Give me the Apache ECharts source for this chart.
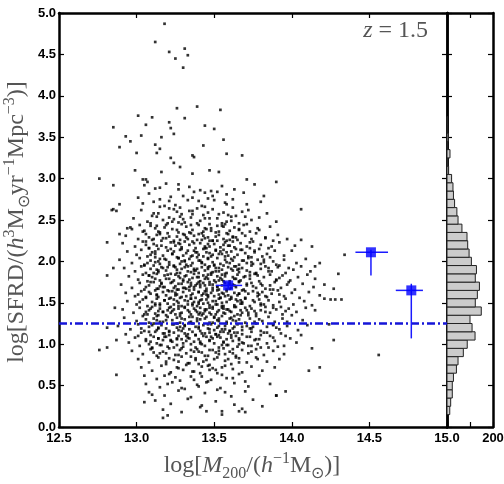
<!DOCTYPE html>
<html><head><meta charset="utf-8">
<script src="https://cdn.jsdelivr.net/npm/echarts@6/dist/echarts.min.js"></script>
<style>html,body{margin:0;padding:0;background:#fff}#c{width:504px;height:484px}</style>
</head><body><div id="c"></div>
<script>
// ---- data (log M200, log SFRD) ----
const pointsSparse = [[13.18,4.87],[13.12,4.65],[13.21,4.53],[13.25,4.45],[13.31,4.57],[13.33,4.49],[13.30,4.34],[13.26,3.85],[13.39,3.87],[13.54,3.83],[13.01,3.76],[13.10,3.74],[13.06,3.65],[12.85,3.62],[13.21,3.68],[13.31,3.73],[13.22,3.61],[13.44,3.64],[13.50,3.60],[13.03,3.52],[12.93,3.51],[13.16,3.50],[13.24,3.54],[13.56,3.47],[12.96,3.45],[12.89,3.38],[13.12,3.41],[13.15,3.36],[13.43,3.40],[13.00,3.31],[13.13,3.31],[13.22,3.25],[13.36,3.28],[13.37,3.26],[13.58,3.30],[13.68,3.28],[13.24,3.19],[13.28,3.14],[12.76,3.00],[12.85,2.92],[12.99,3.10],[13.16,3.08],[13.36,3.06],[13.47,3.10],[13.53,3.08],[13.71,2.99],[13.90,2.96],[13.04,2.99],[13.06,2.99],[13.07,2.96],[12.89,2.69],[12.85,2.63],[12.87,2.61],[12.84,2.62],[14.06,2.63],[12.94,2.40],[12.97,2.39],[12.81,2.23],[12.89,2.33],[14.06,2.26],[14.13,2.18],[14.34,2.08],[14.18,1.98],[14.15,1.94],[14.30,1.85],[14.27,1.67],[14.21,1.55],[14.25,1.54],[14.28,1.54],[14.32,1.54],[14.24,1.24],[14.27,1.05],[14.13,0.95],[14.18,0.72],[14.11,0.68],[14.56,0.87],[12.81,1.20],[12.76,0.93],[12.81,0.96],[12.87,0.63],[12.81,1.83],[12.85,1.92],[12.86,1.44],[12.87,1.05],[13.17,0.11],[13.20,0.14],[13.45,0.19],[13.55,0.15],[13.66,0.19],[13.70,0.18],[13.81,0.25],[13.05,0.30],[13.10,0.39],[13.90,0.38],[13.96,0.43]];

const pointsUpper = [[13.12,2.88],[13.27,2.93],[13.41,2.86],[13.55,2.91],[13.19,2.94],[13.63,2.87],[13.34,2.90],[13.05,2.92],[13.48,2.85],[13.76,2.93],
[13.08,2.82],[13.22,2.78],[13.37,2.84],[13.46,2.76],[13.58,2.81],[13.15,2.75],[13.30,2.79],[13.69,2.83],[13.01,2.77],[13.52,2.84],[13.82,2.79],
[13.11,2.72],[13.25,2.68],[13.33,2.74],[13.44,2.66],[13.57,2.71],[13.62,2.65],[13.18,2.67],[13.40,2.73],[13.71,2.69],[13.04,2.70],[13.50,2.74],[13.28,2.65],[13.80,2.72],
[13.03,2.62],[13.14,2.58],[13.21,2.64],[13.29,2.57],[13.36,2.61],[13.43,2.56],[13.49,2.63],[13.56,2.59],[13.64,2.55],[13.72,2.62],[13.10,2.55],[13.26,2.60],[13.39,2.64],[13.53,2.57],[13.68,2.60],[13.84,2.58],[13.46,2.59],
[12.98,2.52],[13.07,2.48],[13.13,2.54],[13.20,2.46],[13.24,2.51],[13.31,2.47],[13.35,2.53],[13.41,2.49],[13.47,2.45],[13.52,2.52],[13.58,2.48],[13.61,2.54],[13.66,2.46],[13.74,2.50],[13.79,2.53],[13.17,2.50],[13.28,2.54],[13.44,2.52],[13.55,2.46],[13.90,2.48]];

const pointsMidHigh = [[12.96,2.41],[13.05,2.37],[13.09,2.43],[13.14,2.36],[13.19,2.44],[13.23,2.39],[13.27,2.35],[13.32,2.42],[13.36,2.38],[13.40,2.44],[13.43,2.36],[13.48,2.40],[13.51,2.35],[13.55,2.43],[13.60,2.37],[13.63,2.41],[13.69,2.44],[13.73,2.36],[13.78,2.40],[13.86,2.42],[13.12,2.40],[13.29,2.45],[13.45,2.39],[13.57,2.45],[13.66,2.38],[13.02,2.44],
[12.93,2.31],[13.01,2.27],[13.06,2.33],[13.10,2.26],[13.13,2.32],[13.17,2.28],[13.20,2.34],[13.24,2.25],[13.26,2.30],[13.30,2.33],[13.33,2.27],[13.37,2.31],[13.39,2.26],[13.42,2.34],[13.46,2.29],[13.49,2.25],[13.53,2.32],[13.56,2.27],[13.59,2.33],[13.62,2.29],[13.65,2.26],[13.70,2.31],[13.74,2.27],[13.77,2.34],[13.83,2.29],[13.91,2.32],[13.15,2.35],[13.28,2.26],[13.35,2.34],[13.44,2.28],[13.51,2.30],[13.68,2.34],[13.08,2.29],[13.97,2.27],[13.58,2.25],
[12.91,2.22],[12.99,2.18],[13.04,2.24],[13.08,2.16],[13.11,2.21],[13.16,2.25],[13.19,2.17],[13.22,2.23],[13.25,2.19],[13.29,2.15],[13.31,2.24],[13.34,2.20],[13.38,2.16],[13.41,2.22],[13.44,2.18],[13.47,2.25],[13.50,2.21],[13.54,2.17],[13.57,2.23],[13.60,2.19],[13.64,2.15],[13.67,2.22],[13.71,2.18],[13.75,2.24],[13.80,2.20],[13.85,2.16],[13.92,2.23],[14.02,2.19],[13.13,2.19],[13.27,2.22],[13.36,2.24],[13.45,2.16],[13.52,2.25],[13.62,2.24],[13.73,2.16],[13.06,2.20],[13.88,2.25],
[12.94,2.12],[13.00,2.08],[13.03,2.14],[13.07,2.06],[13.10,2.11],[13.14,2.15],[13.17,2.07],[13.20,2.13],[13.23,2.09],[13.26,2.05],[13.28,2.14],[13.32,2.10],[13.35,2.06],[13.37,2.13],[13.40,2.08],[13.43,2.15],[13.45,2.11],[13.48,2.06],[13.51,2.13],[13.53,2.09],[13.56,2.14],[13.59,2.07],[13.61,2.12],[13.65,2.08],[13.68,2.14],[13.72,2.06],[13.76,2.11],[13.79,2.15],[13.84,2.09],[13.89,2.13],[13.95,2.07],[13.12,2.09],[13.30,2.07],[13.39,2.11],[13.47,2.10],[13.58,2.11],[13.70,2.10],[13.81,2.06],[13.24,2.12],[14.00,2.13],
[12.89,2.02],[12.97,1.98],[13.02,2.04],[13.05,1.96],[13.09,2.01],[13.12,2.05],[13.15,1.97],[13.18,2.03],[13.21,1.99],[13.24,1.95],[13.27,2.04],[13.29,2.00],[13.32,1.96],[13.34,2.03],[13.36,1.98],[13.39,2.05],[13.41,2.01],[13.44,1.96],[13.46,2.03],[13.49,1.99],[13.52,2.04],[13.54,1.97],[13.57,2.02],[13.60,1.98],[13.63,2.05],[13.66,1.96],[13.69,2.01],[13.72,2.04],[13.75,1.97],[13.78,2.02],[13.82,1.99],[13.86,2.05],[13.90,1.96],[13.95,2.02],[14.03,1.98],[14.09,2.03],[13.14,2.00],[13.31,2.01],[13.42,1.99],[13.50,1.95],[13.62,2.01],[13.74,1.99],[13.07,1.98],[13.88,2.00],
[12.92,1.92],[12.99,1.88],[13.03,1.94],[13.06,1.86],[13.09,1.91],[13.11,1.95],[13.14,1.87],[13.16,1.93],[13.19,1.89],[13.22,1.85],[13.24,1.94],[13.26,1.90],[13.28,1.86],[13.31,1.93],[13.33,1.88],[13.35,1.95],[13.37,1.91],[13.40,1.86],[13.42,1.93],[13.44,1.89],[13.47,1.94],[13.49,1.87],[13.51,1.92],[13.53,1.88],[13.56,1.95],[13.58,1.86],[13.61,1.91],[13.63,1.94],[13.66,1.87],[13.68,1.92],[13.71,1.89],[13.74,1.95],[13.77,1.86],[13.80,1.91],[13.83,1.94],[13.87,1.88],[13.91,1.93],[13.96,1.86],[14.01,1.90],[14.06,1.94],[13.13,1.90],[13.29,1.91],[13.38,1.89],[13.46,1.91],[13.55,1.90],[13.65,1.90],[13.73,1.87],[13.85,1.92],[13.20,1.93],[13.59,1.93],[13.98,1.92],[14.12,1.88]];

const pointsMid = [[12.95,1.82],[13.01,1.78],[13.04,1.84],[13.07,1.76],[13.10,1.81],[13.13,1.85],[13.15,1.77],[13.18,1.83],[13.21,1.79],[13.23,1.75],[13.25,1.84],[13.28,1.80],[13.30,1.76],[13.32,1.83],[13.34,1.78],[13.37,1.85],[13.39,1.81],[13.41,1.76],[13.43,1.83],[13.46,1.79],[13.48,1.84],[13.50,1.77],[13.52,1.82],[13.55,1.78],[13.57,1.85],[13.60,1.76],[13.62,1.81],[13.65,1.84],[13.67,1.77],[13.70,1.82],[13.73,1.79],[13.76,1.85],[13.79,1.76],[13.82,1.81],[13.86,1.84],[13.90,1.78],[13.94,1.83],[13.99,1.77],[14.04,1.81],[14.10,1.84],[13.12,1.79],[13.27,1.82],[13.36,1.80],[13.45,1.81],[13.54,1.80],[13.64,1.79],[13.78,1.83],[13.08,1.83],[13.92,1.80],[14.15,1.79],
[12.90,1.72],[12.97,1.68],[13.02,1.74],[13.05,1.66],[13.08,1.71],[13.11,1.75],[13.13,1.67],[13.16,1.73],[13.18,1.69],[13.20,1.65],[13.22,1.74],[13.25,1.70],[13.27,1.66],[13.29,1.73],[13.31,1.68],[13.33,1.75],[13.35,1.71],[13.37,1.66],[13.39,1.73],[13.41,1.69],[13.43,1.74],[13.45,1.67],[13.47,1.72],[13.49,1.68],[13.51,1.75],[13.53,1.66],[13.55,1.71],[13.57,1.74],[13.60,1.67],[13.62,1.72],[13.64,1.69],[13.66,1.75],[13.69,1.66],[13.71,1.71],[13.74,1.74],[13.77,1.68],[13.80,1.73],[13.83,1.67],[13.86,1.71],[13.89,1.75],[13.93,1.68],[13.97,1.72],[14.02,1.66],[14.07,1.73],[14.14,1.69],[13.15,1.70],[13.24,1.68],[13.34,1.69],[13.44,1.71],[13.52,1.70],[13.63,1.71],[13.75,1.70],[13.88,1.66],[13.06,1.69],[13.98,1.75],[14.21,1.72],[13.40,1.75],
[12.93,1.62],[12.99,1.58],[13.03,1.64],[13.06,1.56],[13.09,1.61],[13.12,1.65],[13.14,1.57],[13.17,1.63],[13.19,1.59],[13.21,1.55],[13.23,1.64],[13.26,1.60],[13.28,1.56],[13.30,1.63],[13.32,1.58],[13.34,1.65],[13.36,1.61],[13.38,1.56],[13.40,1.63],[13.42,1.59],[13.44,1.64],[13.46,1.57],[13.48,1.62],[13.50,1.58],[13.52,1.65],[13.54,1.56],[13.56,1.61],[13.58,1.64],[13.61,1.57],[13.63,1.62],[13.65,1.59],[13.68,1.65],[13.70,1.56],[13.72,1.61],[13.75,1.64],[13.78,1.58],[13.81,1.63],[13.84,1.57],[13.87,1.61],[13.91,1.65],[13.95,1.58],[14.00,1.62],[14.05,1.56],[14.11,1.63],[13.13,1.60],[13.25,1.62],[13.35,1.59],[13.45,1.60],[13.53,1.60],[13.66,1.61],[13.79,1.60],[13.01,1.60],[13.92,1.60],[14.18,1.59],[13.59,1.59],
[12.94,1.52],[13.00,1.48],[13.04,1.54],[13.07,1.46],[13.10,1.51],[13.13,1.55],[13.15,1.47],[13.18,1.53],[13.20,1.49],[13.22,1.45],[13.24,1.54],[13.27,1.50],[13.29,1.46],[13.31,1.53],[13.33,1.48],[13.35,1.55],[13.37,1.51],[13.39,1.46],[13.41,1.53],[13.43,1.49],[13.45,1.54],[13.47,1.47],[13.49,1.52],[13.51,1.48],[13.53,1.55],[13.56,1.46],[13.58,1.51],[13.60,1.54],[13.63,1.47],[13.65,1.52],[13.68,1.49],[13.70,1.55],[13.73,1.46],[13.76,1.51],[13.79,1.54],[13.82,1.48],[13.85,1.53],[13.88,1.47],[13.92,1.51],[13.96,1.55],[14.01,1.48],[14.08,1.52],[13.12,1.49],[13.26,1.52],[13.36,1.49],[13.46,1.50],[13.55,1.50],[13.67,1.53],[13.80,1.49],[13.02,1.51],[14.13,1.47],
[12.91,1.42],[12.98,1.38],[13.02,1.44],[13.05,1.36],[13.08,1.41],[13.10,1.45],[13.12,1.37],[13.15,1.43],[13.17,1.39],[13.19,1.35],[13.21,1.44],[13.23,1.40],[13.25,1.36],[13.27,1.43],[13.29,1.38],[13.31,1.45],[13.33,1.41],[13.35,1.36],[13.37,1.43],[13.39,1.39],[13.41,1.44],[13.43,1.37],[13.45,1.42],[13.47,1.38],[13.49,1.45],[13.51,1.36],[13.53,1.41],[13.55,1.44],[13.57,1.37],[13.59,1.42],[13.61,1.39],[13.63,1.45],[13.65,1.36],[13.67,1.41],[13.70,1.44],[13.72,1.38],[13.74,1.43],[13.77,1.37],[13.80,1.41],[13.83,1.45],[13.86,1.38],[13.90,1.42],[13.94,1.36],[13.98,1.43],[14.03,1.39],[14.09,1.44],[13.14,1.40],[13.24,1.42],[13.34,1.39],[13.44,1.40],[13.52,1.39],[13.60,1.40],[13.68,1.38],[13.76,1.40],[13.88,1.44],[13.06,1.39],[14.15,1.41],[13.40,1.36],[13.56,1.43],[13.96,1.40]];

const pointsMidLow = [[12.92,1.32],[13.00,1.28],[13.04,1.34],[13.08,1.26],[13.11,1.31],[13.14,1.35],[13.17,1.27],[13.20,1.33],[13.23,1.29],[13.26,1.25],[13.28,1.34],[13.31,1.30],[13.34,1.26],[13.36,1.33],[13.39,1.28],[13.42,1.35],[13.44,1.31],[13.47,1.26],[13.50,1.33],[13.52,1.29],[13.55,1.34],[13.58,1.27],[13.61,1.32],[13.64,1.28],[13.67,1.35],[13.70,1.26],[13.73,1.31],[13.77,1.34],[13.81,1.28],[13.85,1.33],[13.89,1.27],[13.94,1.31],[14.00,1.35],[14.07,1.29],[13.13,1.29],[13.29,1.31],[13.41,1.30],[13.53,1.31],[13.66,1.30],[13.79,1.30],[13.06,1.30],[13.97,1.27],
[12.88,1.22],[12.96,1.18],[13.01,1.24],[13.05,1.16],[13.08,1.21],[13.11,1.25],[13.13,1.17],[13.16,1.23],[13.19,1.19],[13.21,1.15],[13.24,1.24],[13.26,1.20],[13.29,1.16],[13.31,1.23],[13.34,1.18],[13.36,1.25],[13.38,1.21],[13.41,1.16],[13.43,1.23],[13.46,1.19],[13.48,1.24],[13.50,1.17],[13.53,1.22],[13.55,1.18],[13.58,1.25],[13.60,1.16],[13.63,1.21],[13.65,1.24],[13.68,1.17],[13.71,1.22],[13.74,1.19],[13.77,1.25],[13.80,1.16],[13.84,1.21],[13.88,1.24],[13.92,1.18],[13.97,1.22],[14.04,1.17],[14.10,1.23],[13.14,1.20],[13.28,1.21],[13.40,1.19],[13.52,1.20],[13.62,1.19],[13.75,1.21],[13.03,1.19],[13.90,1.20],
[12.93,1.12],[12.99,1.08],[13.03,1.14],[13.06,1.06],[13.09,1.11],[13.12,1.15],[13.14,1.07],[13.17,1.13],[13.19,1.09],[13.22,1.05],[13.24,1.14],[13.27,1.10],[13.29,1.06],[13.31,1.13],[13.33,1.08],[13.36,1.15],[13.38,1.11],[13.40,1.06],[13.42,1.13],[13.45,1.09],[13.47,1.14],[13.49,1.07],[13.51,1.12],[13.54,1.08],[13.56,1.15],[13.58,1.06],[13.61,1.11],[13.63,1.14],[13.66,1.07],[13.68,1.12],[13.71,1.09],[13.74,1.15],[13.77,1.06],[13.80,1.11],[13.84,1.14],[13.88,1.08],[13.93,1.13],[13.99,1.07],[14.06,1.11],[13.11,1.09],[13.21,1.11],[13.32,1.10],[13.43,1.10],[13.53,1.11],[13.64,1.10],[13.73,1.09],[13.86,1.10],[13.01,1.10],[13.26,1.07],[13.48,1.09],[13.59,1.13],[13.96,1.10],
[12.95,1.02],[13.02,0.98],[13.06,1.04],[13.10,0.96],[13.13,1.01],[13.17,1.05],[13.20,0.97],[13.23,1.03],[13.26,0.99],[13.29,0.95],[13.32,1.04],[13.35,1.00],[13.38,0.96],[13.41,1.03],[13.44,0.98],[13.47,1.05],[13.50,1.01],[13.53,0.96],[13.56,1.03],[13.59,0.99],[13.62,1.04],[13.65,0.97],[13.68,1.02],[13.72,0.98],[13.76,1.05],[13.80,0.96],[13.84,1.01],[13.89,1.04],[13.95,0.98],[14.03,1.02],[13.15,0.99],[13.30,1.01],[13.42,1.00],[13.55,0.99],[13.66,1.00],[13.78,1.00],[13.08,1.00],[13.91,0.97]];

const pointsLower = [[12.97,0.92],[13.04,0.88],[13.09,0.94],[13.13,0.86],[13.17,0.91],[13.21,0.95],[13.25,0.87],[13.28,0.93],[13.32,0.89],[13.35,0.85],[13.39,0.94],[13.42,0.90],[13.46,0.86],[13.49,0.93],[13.53,0.88],[13.56,0.95],[13.60,0.91],[13.64,0.86],[13.68,0.93],[13.72,0.89],[13.77,0.94],[13.82,0.87],[13.88,0.92],[13.95,0.88],[13.19,0.89],[13.37,0.91],[13.51,0.90],[13.62,0.89],[13.11,0.90],[13.74,0.91],
[13.01,0.82],[13.08,0.78],[13.14,0.84],[13.19,0.76],[13.24,0.81],[13.29,0.85],[13.34,0.77],[13.38,0.83],[13.43,0.79],[13.47,0.75],[13.52,0.84],[13.57,0.80],[13.61,0.76],[13.66,0.83],[13.71,0.78],[13.77,0.84],[13.84,0.79],[13.92,0.82],[13.27,0.79],[13.45,0.81],[13.59,0.82],
[13.03,0.72],[13.10,0.68],[13.16,0.74],[13.22,0.66],[13.27,0.71],[13.32,0.75],[13.37,0.67],[13.42,0.73],[13.47,0.69],[13.52,0.65],[13.57,0.74],[13.62,0.70],[13.68,0.66],[13.74,0.73],[13.81,0.68],[13.89,0.72],[13.30,0.69],[13.49,0.71],
[13.05,0.62],[13.13,0.58],[13.21,0.64],[13.28,0.56],[13.35,0.61],[13.41,0.65],[13.48,0.57],[13.55,0.63],[13.62,0.59],[13.70,0.55],[13.79,0.62],[13.25,0.60],
[13.06,0.52],[13.15,0.48],[13.23,0.54],[13.31,0.46],[13.39,0.51],[13.46,0.55],[13.54,0.47],[13.63,0.53],[13.72,0.49],[13.86,0.52],
[13.08,0.42],[13.18,0.38],[13.27,0.44],[13.35,0.36],[13.44,0.41],[13.52,0.45],[13.61,0.37],[13.70,0.43],[13.90,0.38],
[13.12,0.32],[13.22,0.28],[13.33,0.34],[13.42,0.26],[13.51,0.31],[13.63,0.27],[13.75,0.33],
[13.17,0.21],[13.29,0.18],[13.41,0.24],[13.55,0.19],[13.68,0.22]];

const pointsCoreExtra = [[13.27,2.47],[13.52,2.43],[13.18,2.41],[13.61,2.49],[13.35,2.44],[13.09,2.46],[13.44,2.40],[13.71,2.45],[13.23,2.48],[13.56,2.42],[13.39,2.46],[13.13,2.43],
[13.48,2.37],[13.31,2.32],[13.66,2.39],[13.21,2.30],[13.58,2.34],[13.04,2.36],[13.43,2.31],[13.79,2.38],[13.34,2.35],[13.15,2.33],[13.62,2.30],[13.26,2.38],[13.53,2.36],[13.40,2.33],
[13.11,2.27],[13.37,2.22],[13.64,2.29],[13.28,2.21],[13.49,2.25],[13.19,2.28],[13.73,2.23],[13.42,2.26],[13.56,2.20],[13.06,2.24],[13.32,2.29],[13.60,2.26],[13.24,2.23],[13.83,2.28],[13.46,2.21],
[13.29,2.17],[13.54,2.12],[13.16,2.19],[13.67,2.14],[13.38,2.11],[13.08,2.16],[13.47,2.18],[13.76,2.13],[13.22,2.15],[13.59,2.19],[13.33,2.13],[13.44,2.16],[13.12,2.12],[13.63,2.17],[13.51,2.14],[13.87,2.18],
[13.36,2.07],[13.19,2.02],[13.55,2.09],[13.27,2.04],[13.68,2.01],[13.43,2.06],[13.09,2.08],[13.61,2.03],[13.31,2.00],[13.49,2.08],[13.74,2.05],[13.15,2.03],[13.40,2.01],[13.57,2.06],[13.23,2.09],[13.82,2.02],[13.46,2.04],
[13.28,1.97],[13.53,1.92],[13.12,1.99],[13.64,1.94],[13.39,1.91],[13.21,1.96],[13.71,1.98],[13.46,1.93],[13.05,1.95],[13.58,1.99],[13.33,1.94],[13.80,1.97],[13.17,1.92],[13.50,1.96],[13.42,1.98],[13.66,1.91],[13.25,1.93],[13.92,1.95],
[13.35,1.87],[13.57,1.82],[13.14,1.89],[13.46,1.84],[13.69,1.81],[13.26,1.86],[13.51,1.88],[13.08,1.83],[13.77,1.85],[13.40,1.81],[13.62,1.89],[13.20,1.84],[13.31,1.82],[13.85,1.88],[13.48,1.86],[13.55,1.84],[13.11,1.86],[13.73,1.83],[13.37,1.89],
[13.24,1.77],[13.49,1.72],[13.63,1.79],[13.16,1.74],[13.38,1.71],[13.56,1.76],[13.30,1.78],[13.71,1.73],[13.09,1.75],[13.44,1.79],[13.81,1.71],[13.27,1.73],[13.53,1.77],[13.35,1.74],[13.66,1.76],[13.19,1.79],[13.47,1.75],[13.90,1.77],[13.41,1.72],[13.60,1.73],
[13.32,1.67],[13.55,1.62],[13.17,1.69],[13.70,1.64],[13.43,1.61],[13.26,1.66],[13.61,1.68],[13.08,1.63],[13.49,1.65],[13.37,1.69],[13.78,1.62],[13.21,1.64],[13.58,1.66],[13.40,1.63],[13.14,1.67],[13.66,1.61],[13.30,1.68],[13.86,1.66],[13.52,1.69],[13.45,1.64],
[13.29,1.57],[13.51,1.52],[13.13,1.59],[13.64,1.54],[13.40,1.51],[13.22,1.56],[13.57,1.58],[13.75,1.53],[13.35,1.55],[13.06,1.57],[13.46,1.59],[13.68,1.51],[13.18,1.53],[13.54,1.56],[13.33,1.52],[13.83,1.58],[13.42,1.54],[13.25,1.59],[13.61,1.55],
[13.36,1.47],[13.58,1.42],[13.15,1.49],[13.47,1.44],[13.71,1.41],[13.27,1.46],[13.52,1.48],[13.09,1.43],[13.64,1.45],[13.40,1.49],[13.20,1.41],[13.80,1.47],[13.44,1.42],[13.31,1.44],[13.55,1.46],[13.12,1.47],[13.67,1.49],[13.38,1.41],[13.93,1.45],[13.49,1.43],[13.24,1.48],
[13.28,1.37],[13.50,1.32],[13.17,1.39],[13.63,1.34],[13.39,1.31],[13.07,1.36],[13.56,1.38],[13.45,1.33],[13.72,1.35],[13.22,1.38],[13.34,1.33],[13.60,1.31],[13.13,1.34],[13.48,1.36],[13.83,1.39],[13.41,1.38],[13.26,1.32],
[13.35,1.27],[13.57,1.22],[13.19,1.29],[13.46,1.24],[13.68,1.21],[13.28,1.26],[13.10,1.23],[13.53,1.28],[13.40,1.21],[13.76,1.27],[13.23,1.24],[13.62,1.29],[13.31,1.22],[13.49,1.26],[13.15,1.27],[13.88,1.23],
[13.27,1.17],[13.51,1.12],[13.14,1.19],[13.65,1.14],[13.38,1.11],[13.21,1.16],[13.57,1.18],[13.44,1.13],[13.08,1.15],[13.73,1.19],[13.33,1.12],[13.60,1.16],[13.47,1.18],[13.18,1.13],[13.82,1.14],[13.30,1.19],[13.54,1.15],
[13.34,1.07],[13.56,1.02],[13.18,1.09],[13.47,1.04],[13.69,1.01],[13.26,1.06],[13.09,1.03],[13.61,1.08],[13.41,1.01],[13.79,1.06],[13.22,1.04],[13.52,1.09],[13.37,1.03],[13.14,1.07],[13.66,1.05],
[13.30,0.97],[13.53,0.92],[13.16,0.99],[13.62,0.94],[13.40,0.91],[13.24,0.96],[13.74,0.98],[13.47,0.93],[13.10,0.95],[13.58,0.99],[13.35,0.93],[13.85,0.96],
[13.27,0.87],[13.50,0.82],[13.15,0.89],[13.64,0.84],[13.38,0.81],[13.57,0.88],[13.21,0.83],[13.44,0.86],[13.78,0.82],
[13.33,0.77],[13.55,0.72],[13.19,0.79],[13.46,0.74],[13.66,0.78],[13.26,0.72],[13.40,0.76],
[13.36,0.67],[13.18,0.62],[13.51,0.69],[13.66,0.64],[13.42,0.61],
[13.37,0.57],[13.20,0.52],[13.58,0.59],[13.45,0.54],
[13.29,0.47],[13.57,0.42],[13.40,0.49],
[13.36,2.57],[13.21,2.53],[13.59,2.56],[13.47,2.52],[13.11,2.58],[13.70,2.54],[13.30,2.51],
[13.42,2.67],[13.24,2.63],[13.58,2.69],[13.15,2.66],[13.34,2.61],
[13.36,2.77],[13.21,2.73],[13.49,2.79],[13.62,2.75],
[13.27,2.87],[13.44,2.83],[13.15,2.89]];

// binned means with error bars (blue squares)
const binX    = [13.59, 14.51, 14.77];
const binY    = [1.71, 2.11, 1.65];
const binXLo  = [13.51, 14.41, 14.67];
const binXHi  = [13.68, 14.62, 14.845];
const binYLo  = [1.67, 1.83, 1.07];
const binYHi  = [1.75, 2.14, 1.73];

// reference level (dash-dot line)
const refLevel = 1.25;

// side histogram of log SFRD
const histLow   = [0.15,0.25,0.35,0.45,0.55,0.65,0.75,0.85,0.95,1.05,1.15,1.25,1.35,1.45,1.55,1.65,1.75,1.85,1.95,2.05,2.15,2.25,2.35,2.45,2.55,2.65,2.75,2.85,2.95,3.05,3.15,3.25,3.35,3.45,3.55,3.65];
const histCount = [12,16,23,23,28,41,48,71,88,122,109,100,149,123,132,141,123,128,106,96,90,87,65,48,43,33,28,26,20,7,3,13,2,5,2,1];
const histWidth = 0.1;

const xTicks = {min:12.5, max:15.0, step:0.5};
const yTicks = {min:0, max:5.0, step:0.5};
const histTicks = {min:0, max:200, step:100};

// ---- chart ----
const dots = pointsSparse.concat(pointsUpper, pointsMidHigh, pointsMid, pointsMidLow, pointsLower, pointsCoreExtra);
const errData = binX.map((x,i)=>[x, binY[i], binXLo[i], binXHi[i], binYLo[i], binYHi[i]]);
const sqData = binX.map((x,i)=>[x, binY[i]]);
const histData = histLow.map((lo,i)=>[lo, +(lo+histWidth).toFixed(2), histCount[i]]);

const tickFont = {fontFamily:'Liberation Sans, Arial, sans-serif', fontWeight:'bold', fontSize:13, color:'#000'};
function ax(extra){
  return Object.assign({
    type:'value', scale:false,
    axisLine:{show:true, onZero:false, lineStyle:{color:'#000', width:2.5}},
    axisTick:{show:true, inside:true, length:5, lineStyle:{color:'#000', width:1.2}},
    splitLine:{show:false},
    axisLabel:{show:false}
  }, extra);
}

const serif = 'Liberation Serif, Times New Roman, serif';
const gray = '#555';
const richLabel = {
  n:{fontFamily:serif, fontSize:24, fill:gray, lineHeight:31},
  i:{fontFamily:serif, fontSize:24, fontStyle:'italic', fill:gray, lineHeight:31},
  sp:{fontFamily:serif, fontSize:16, fill:gray, verticalAlign:'top'},
  sb:{fontFamily:serif, fontSize:16, fill:gray, verticalAlign:'bottom'}
};

const chart = echarts.init(document.getElementById('c'), null, {renderer:'canvas'});
chart.setOption({
  animation:false,
  backgroundColor:'#fff',
  grid:[
    {left:59, top:13, width:388, height:414, containLabel:false, outerBoundsMode:'none'},
    {left:447, top:13, width:46, height:414, containLabel:false, outerBoundsMode:'none'}
  ],
  xAxis:[
    ax({gridIndex:0, position:'bottom', min:xTicks.min, max:xTicks.max, interval:xTicks.step,
        axisLabel:Object.assign({show:true, margin:5, formatter:v=>v.toFixed(1)}, tickFont)}),
    ax({gridIndex:0, position:'top', min:xTicks.min, max:xTicks.max, interval:xTicks.step}),
    ax({gridIndex:1, position:'bottom', min:histTicks.min, max:histTicks.max, interval:histTicks.step,
        axisLabel:Object.assign({show:true, margin:5, formatter:v=> v===histTicks.max ? String(v) : ''}, tickFont)}),
    ax({gridIndex:1, position:'top', min:histTicks.min, max:histTicks.max, interval:histTicks.step})
  ],
  yAxis:[
    ax({gridIndex:0, position:'left', min:yTicks.min, max:yTicks.max, interval:yTicks.step,
        axisLabel:Object.assign({show:true, margin:3, formatter:v=>v.toFixed(1)}, tickFont)}),
    ax({gridIndex:0, position:'right', min:yTicks.min, max:yTicks.max, interval:yTicks.step}),
    ax({gridIndex:1, position:'left', min:yTicks.min, max:yTicks.max, interval:yTicks.step}),
    ax({gridIndex:1, position:'right', min:yTicks.min, max:yTicks.max, interval:yTicks.step})
  ],
  series:[
    {type:'scatter', xAxisIndex:0, yAxisIndex:0, data:dots, symbol:'rect', symbolSize:2.7,
     itemStyle:{color:'#000'}, silent:true, z:2},
    {type:'line', xAxisIndex:0, yAxisIndex:0, data:[[xTicks.min, refLevel],[xTicks.max, refLevel]],
     symbol:'none', silent:true, z:3,
     lineStyle:{color:'#1515d8', width:2.5, type:[8,3,2,3]}},
    {type:'custom', xAxisIndex:0, yAxisIndex:0, data:errData, z:4, silent:true,
     encode:{x:[0,2,3], y:[1,4,5]},
     renderItem:function(params, api){
       const x=api.value(0), y=api.value(1);
       const a=api.coord([api.value(2), y]), b=api.coord([api.value(3), y]);
       const c=api.coord([x, api.value(4)]), d=api.coord([x, api.value(5)]);
       return {type:'group', children:[
         {type:'line', shape:{x1:a[0], y1:a[1], x2:b[0], y2:b[1]}, style:{stroke:'#1a1aff', lineWidth:1.5}},
         {type:'line', shape:{x1:c[0], y1:c[1], x2:d[0], y2:d[1]}, style:{stroke:'#1a1aff', lineWidth:1.5}}
       ]};
     }},
    {type:'scatter', xAxisIndex:0, yAxisIndex:0, data:sqData, symbol:'rect', symbolSize:10,
     itemStyle:{color:'#0000ff'}, silent:true, z:5},
    {type:'custom', xAxisIndex:2, yAxisIndex:2, data:histData, silent:true, z:2,
     encode:{x:2, y:[0,1]},
     renderItem:function(params, api){
       const p1=api.coord([0, api.value(1)]), p2=api.coord([api.value(2), api.value(0)]);
       return {type:'rect', shape:{x:p1[0], y:p1[1], width:p2[0]-p1[0], height:p2[1]-p1[1]},
               style:{fill:'#cccccc', stroke:'#222', lineWidth:1}};
     }}
  ],
  graphic:[
    {type:'text', x:252, y:466, silent:true,
     style:{text:'{n|log[}{i|M}{sb|200}{n|/(}{i|h}{sp|−1}{n|M}{sb|⊙}{n|)]}', align:'center', verticalAlign:'middle', rich:richLabel}},
    {type:'text', x:17, y:222, rotation:Math.PI/2, silent:true,
     style:{text:'{n|log[SFRD/(}{i|h}{sp|3}{n|M}{sb|⊙}{n|yr}{sp|−1}{n|Mpc}{sp|−3}{n|)]}', align:'center', verticalAlign:'middle', rich:richLabel}},
    {type:'text', x:428, y:31, silent:true,
     style:{text:'{i|z}{n| = 1.5}', align:'right', verticalAlign:'middle',
       rich:{i:{fontFamily:serif, fontSize:24, fontStyle:'italic', fill:gray}, n:{fontFamily:serif, fontSize:24, fill:gray}}}}
  ]
});
</script>
</body></html>
